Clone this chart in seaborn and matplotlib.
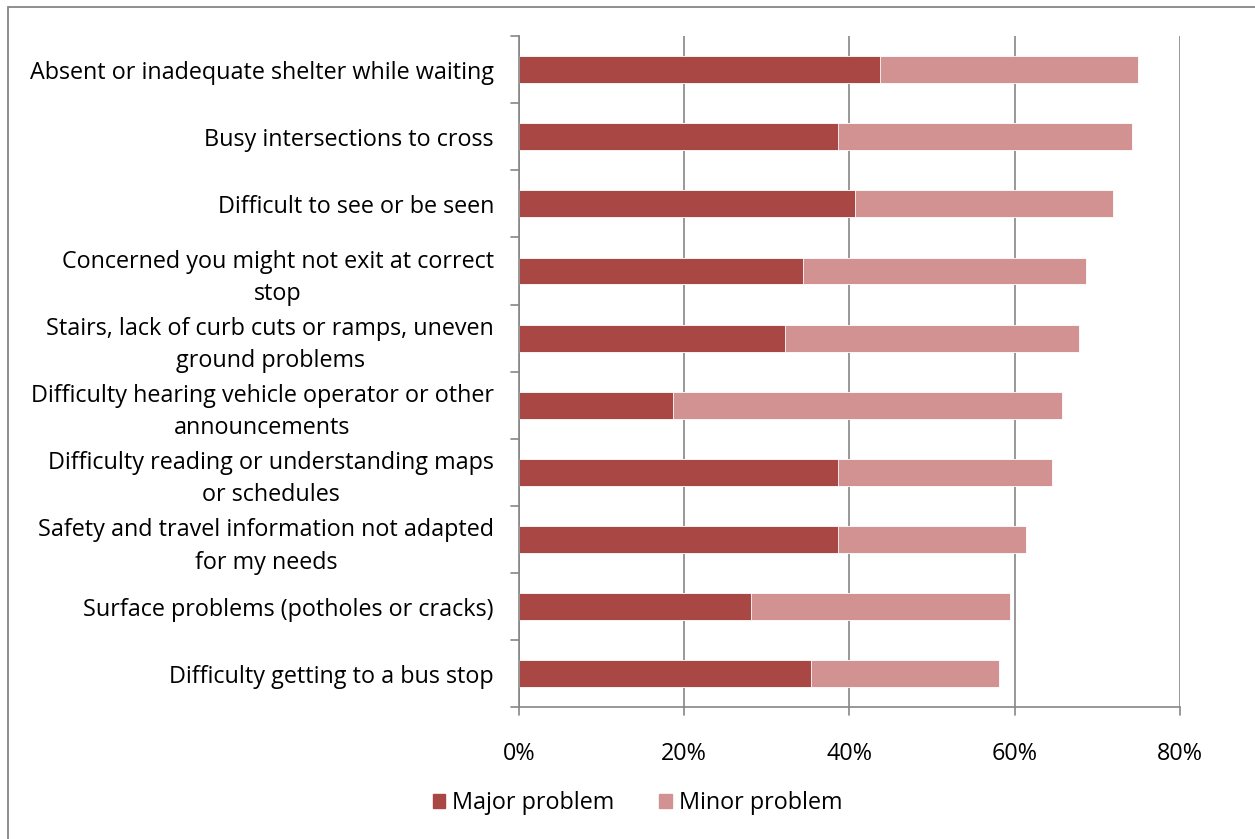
import matplotlib
matplotlib.use("Agg")
import matplotlib.pyplot as plt
import seaborn as sns
import pandas as pd
from matplotlib.patches import Patch

categories = [
    "Absent or inadequate shelter while waiting",
    "Busy intersections to cross",
    "Difficult to see or be seen",
    "Concerned you might not exit at correct\nstop",
    "Stairs, lack of curb cuts or ramps, uneven\nground problems",
    "Difficulty hearing vehicle operator or other\nannouncements",
    "Difficulty reading or understanding maps\nor schedules",
    "Safety and travel information not adapted\nfor my needs",
    "Surface problems (potholes or cracks)",
    "Difficulty getting to a bus stop",
]
major = [43.7, 38.6, 40.7, 34.4, 32.2, 18.6, 38.6, 38.6, 28.1, 35.3]
minor = [31.3, 35.6, 31.2, 34.3, 35.6, 47.1, 25.9, 22.8, 31.3, 22.8]
x_ticks = [0, 20, 40, 60, 80]
x_tick_labels = ["0%", "20%", "40%", "60%", "80%"]

major_color = "#A94744"
minor_color = "#D39292"
line_color = "#868686"

df = pd.DataFrame({"category": categories, "major": major, "minor": minor})
df["total"] = df["major"] + df["minor"]

sns.set_theme(style="white")
plt.rcParams["font.family"] = ["Open Sans", "DejaVu Sans"]
plt.rcParams["text.color"] = "black"

fig = plt.figure(figsize=(12.55, 8.39), dpi=100)
ax = fig.add_axes([0.4135, 0.157, 0.5265, 0.8])

sns.barplot(data=df, x="total", y="category", color=minor_color, width=0.4,
            saturation=1, ax=ax, edgecolor="white", linewidth=0.6)
sns.barplot(data=df, x="major", y="category", color=major_color, width=0.4,
            saturation=1, ax=ax, edgecolor="white", linewidth=0.6)

n = len(categories)
fs = 16.8
ax.set_xlim(0, 80)
ax.set_ylim(n - 0.5, -0.5)
ax.set_xticks(x_ticks)
ax.set_xticklabels(x_tick_labels, fontsize=fs, color="black")
ax.set_xlabel("")
ax.set_ylabel("")
ax.tick_params(axis="y", labelsize=fs, length=0, pad=18, labelcolor="black")
ax.tick_params(axis="x", pad=25, length=0)
ax.xaxis.grid(True, color=line_color, linewidth=1.2)
ax.set_axisbelow(True)
for s in ["top", "right", "bottom"]:
    ax.spines[s].set_visible(False)
ax.spines["left"].set_color(line_color)
ax.spines["left"].set_linewidth(1.2)

# category boundary ticks on the vertical axis
for b in [i - 0.5 for i in range(n + 1)]:
    ax.plot([-1.0, 0], [b, b], color=line_color, lw=1.2, clip_on=False)
# value ticks below the horizontal axis
for t in x_ticks:
    ax.plot([t, t], [n - 0.5, n - 0.5 + 0.12], color=line_color, lw=1.2, clip_on=False)
ax.plot([0, 80], [n - 0.5] * 2, color=line_color, lw=1.2, clip_on=False)

for lbl in ax.get_yticklabels():
    lbl.set_horizontalalignment("right")
    lbl.set_multialignment("center")
    lbl.set_linespacing(1.45)

handles = [Patch(color=major_color, label="Major problem"),
           Patch(color=minor_color, label="Minor problem")]
fig.legend(handles=handles, loc="center", bbox_to_anchor=(0.508, 0.043), ncol=2,
           frameon=False, fontsize=fs, handlelength=0.55, handleheight=0.55,
           handletextpad=0.3, columnspacing=1.9)

# chart border
fig.patches.append(plt.Rectangle((0.0064, -0.05), 1.2, 0.9917 + 0.05,
                                 transform=fig.transFigure, fill=False,
                                 edgecolor=line_color, lw=1.3))

fig.savefig("out.png", dpi=100)
